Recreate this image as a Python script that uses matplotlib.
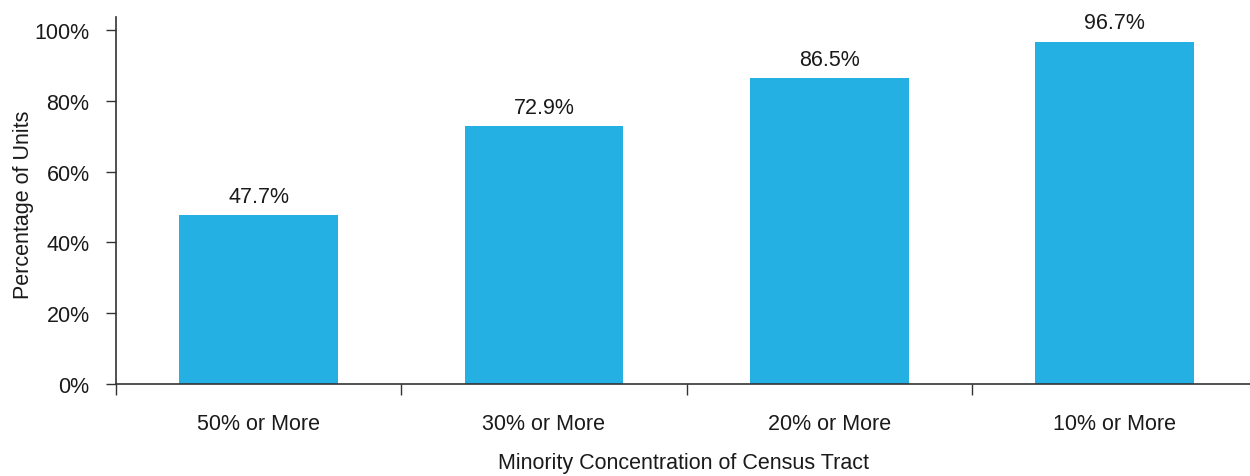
import matplotlib
matplotlib.use("Agg")
import matplotlib.pyplot as plt

categories = ["50% or More", "30% or More", "20% or More", "10% or More"]
values = [47.7, 72.9, 86.5, 96.7]
yticks = [0, 20, 40, 60, 80, 100]

plt.rcParams['font.family'] = ['Liberation Sans', 'DejaVu Sans']
txt = '#1A1A1A'
fs = 15.5
fig = plt.figure(figsize=(12.5, 4.77), dpi=100)
ax = fig.add_axes([116/1250, 1-385/477, 1-116/1250, (385-18)/477])
x = list(range(len(categories)))
ax.bar(x, values, width=0.556, color='#25B0E4', zorder=2)
for xi, v in zip(x, values):
    ax.annotate(f"{v:.1f}%", (xi, v), xytext=(0, 6), textcoords='offset points',
                ha='center', va='bottom', fontsize=fs, color=txt)
ax.set_xlim(-0.5, 3.475)
ax.set_ylim(0, 103.7)
ax.set_yticks(yticks)
ax.set_yticklabels([f"{t}%" for t in yticks])
ax.set_xticks([i - 0.5 for i in range(len(categories))])
ax.set_xticklabels([])
ax.set_xticks(x, minor=True)
ax.set_xticklabels(categories, minor=True)
ax.tick_params(axis='x', which='minor', length=0, pad=21, labelsize=fs, labelcolor=txt)
ax.tick_params(axis='x', which='major', length=8, width=1, direction='out', color='#333333')
ax.tick_params(axis='y', length=7, width=1, direction='out', labelsize=fs, labelcolor=txt, pad=12, color='#333333')
for s in ['top', 'right']:
    ax.spines[s].set_visible(False)
for s in ['left', 'bottom']:
    ax.spines[s].set_color('#333333')
    ax.spines[s].set_linewidth(1.2)
ax.set_ylabel("Percentage of Units", fontsize=fs, color=txt)
ax.yaxis.set_label_coords(-0.072, 0.49)
ax.set_xlabel("Minority Concentration of Census Tract", fontsize=fs, color=txt, labelpad=13)
fig.savefig("out.png", dpi=100)
